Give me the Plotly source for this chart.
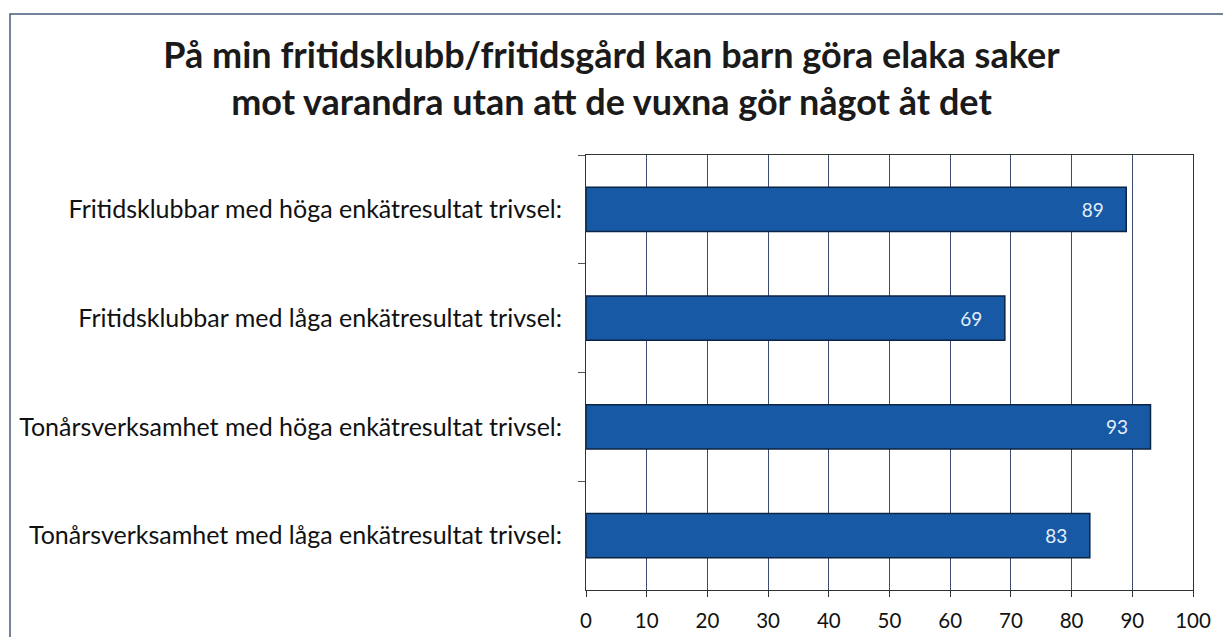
import plotly.graph_objects as go

categories = [
    "Fritidsklubbar med höga enkätresultat trivsel:",
    "Fritidsklubbar med låga enkätresultat trivsel:",
    "Tonårsverksamhet med höga enkätresultat trivsel:",
    "Tonårsverksamhet med låga enkätresultat trivsel:",
]
values = [89, 69, 93, 83]
x_ticks = [0, 10, 20, 30, 40, 50, 60, 70, 80, 90, 100]

title_text = ("På min fritidsklubb/fritidsgård kan barn göra elaka saker"
              "<br>mot varandra utan att de vuxna gör något åt det")

W, H = 1223, 637
L, R, T, B = 586, 1193, 155, 590

fig = go.Figure()
fig.add_trace(go.Bar(
    x=values, y=categories, orientation="h",
    width=0.405,
    marker=dict(color="#1859a6", line=dict(color="#0b2442", width=1.5)),
    text=[str(v) + "\u00a0\u00a0\u00a0\u00a0" for v in values],
    textposition="inside", insidetextanchor="end",
    textfont=dict(family="Lato", size=19, color="#e3eefa"),
    hoverinfo="skip",
))

fig.update_layout(
    width=W, height=H,
    margin=dict(l=L, r=W - R, t=T, b=H - B, autoexpand=False),
    paper_bgcolor="white", plot_bgcolor="white",
    showlegend=False,
    font=dict(family="Lato", color="#111"),
    title=dict(
        text="<b>" + title_text + "</b>",
        x=0.5, xanchor="center", xref="container",
        y=1 - 68 / H, yanchor="middle", yref="container",
        font=dict(family="Lato", size=36, color="#1a1a1a"),
    ),
)

fig.update_xaxes(
    range=[0, 100], tickvals=x_ticks, ticktext=[str(v) for v in x_ticks],
    showgrid=True, gridcolor="#3b4c6e", gridwidth=1,
    showline=True, linecolor="#333", linewidth=1, mirror=True,
    ticks="outside", ticklen=6, tickcolor="#333",
    tickfont=dict(family="Lato", size=20.5, color="#111"),
    ticklabelstandoff=6,
    zeroline=False, fixedrange=True,
)
fig.update_yaxes(
    autorange="reversed", type="category",
    tickson="boundaries", ticks="outside", ticklen=7, tickcolor="#555",
    showgrid=False, showline=True, linecolor="#333", linewidth=1, mirror=True,
    tickfont=dict(family="Lato", size=25, color="#111"),
    ticklabelstandoff=18,
    fixedrange=True,
)

pw, ph = R - L, B - T
fig.add_shape(
    type="rect", xref="paper", yref="paper",
    x0=(10 - L) / pw, x1=(1240 - L) / pw,
    y0=(B - 660) / ph, y1=(B - 14) / ph,
    line=dict(color="#4a5a78", width=1.5), fillcolor="rgba(0,0,0,0)",
    layer="below",
)

fig.write_html(
    "out.html",
    config={"displayModeBar": False},
    post_script="document.body.style.margin='0';document.body.style.overflow='hidden';",
)
